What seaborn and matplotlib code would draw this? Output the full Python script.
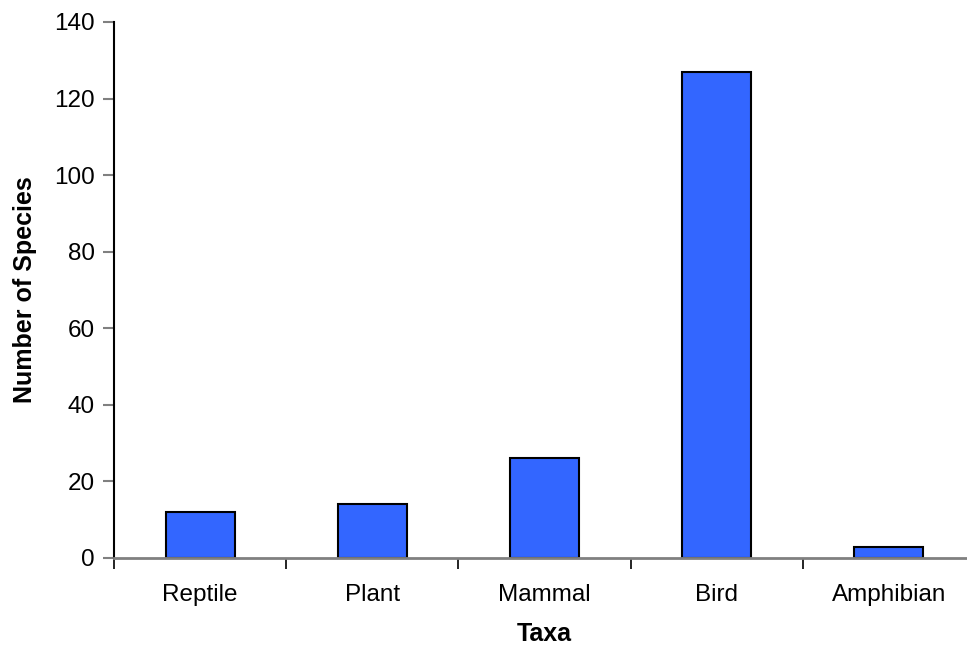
import matplotlib
matplotlib.use("Agg")
import matplotlib.pyplot as plt
import seaborn as sns
import pandas as pd

categories = ["Reptile", "Plant", "Mammal", "Bird", "Amphibian"]
values = [12, 14, 26, 127, 3]
yticks = [0, 20, 40, 60, 80, 100, 120, 140]

sns.set_style("white")
plt.rcParams['font.family'] = ['Liberation Sans', 'DejaVu Sans']
plt.rcParams['text.color'] = 'black'
plt.rcParams['axes.labelcolor'] = 'black'
plt.rcParams['xtick.color'] = 'black'
plt.rcParams['ytick.color'] = 'black'

df = pd.DataFrame({"Taxa": categories, "Number of Species": values})

fig = plt.figure(figsize=(9.67, 6.45), dpi=100)
ax = fig.add_axes([114/967, (645-558)/645, (975-114)/967, (558-22)/645])

sns.barplot(data=df, x="Taxa", y="Number of Species", ax=ax, width=0.4,
            color="#3366FF", saturation=1, edgecolor="black", linewidth=1.5)

ax.set_xlim(-0.5, len(categories) - 0.5)
ax.set_ylim(0, 140)
ax.set_yticks(yticks)
ax.set_yticklabels([str(t) for t in yticks], fontsize=17.5)
ax.tick_params(axis='y', which='major', direction='out', length=8, width=1.5,
               color='#808080', labelcolor='black', pad=6, left=True)
ax.set_xticks(range(len(categories)))
ax.set_xticklabels(categories, fontsize=17.5)
ax.tick_params(axis='x', which='major', length=0, pad=19, labelcolor='black')
ax.set_xticks([i - 0.5 for i in range(len(categories) + 1)], minor=True)
ax.tick_params(axis='x', which='minor', direction='out', length=8, width=1.2,
               color='black', bottom=True)

for s in ['top', 'right']:
    ax.spines[s].set_visible(False)
ax.spines['left'].set_color('black')
ax.spines['left'].set_linewidth(1.5)
ax.spines['bottom'].set_color('#808080')
ax.spines['bottom'].set_linewidth(2)

ax.set_xlabel("Taxa", fontsize=18, fontweight='bold', labelpad=11, color='black')
ax.set_ylabel("Number of Species", fontsize=18, fontweight='bold', labelpad=12, color='black')
ax.grid(False)

fig.savefig("out.png", dpi=100)
